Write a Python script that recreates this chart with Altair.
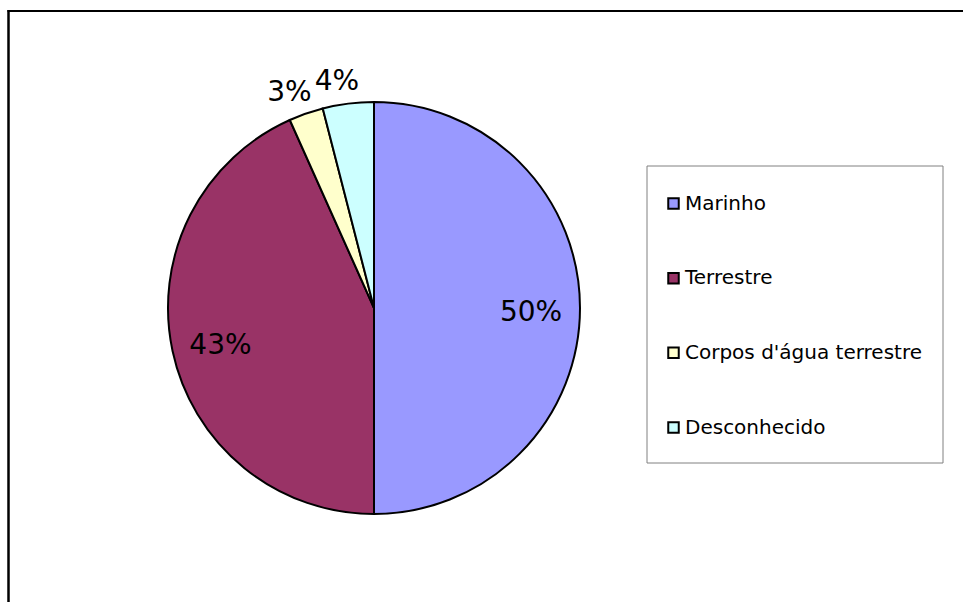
import altair as alt
import pandas as pd

categories = ["Marinho", "Terrestre", "Corpos d'água terrestre", "Desconhecido"]
values = [50.0, 43.3, 2.7, 4.0]
labels = ["50%", "43%", "3%", "4%"]
colors = ["#9999FF", "#993366", "#FFFFCC", "#CCFFFF"]

df = pd.DataFrame({"cat": categories, "value": values, "label": labels, "idx": list(range(len(categories)))})

FONT = "DejaVu Sans"
CX, CY = 374, 308

base = (
    alt.Chart(df)
    .transform_joinaggregate(total="sum(value)")
    .transform_window(cum="sum(value)", sort=[alt.SortField("idx")], frame=[None, 0])
    .transform_calculate(
        f_end="datum.cum / datum.total",
        f_start="(datum.cum - datum.value) / datum.total",
        f_mid="(datum.cum - datum.value / 2) / datum.total",
    )
)

theta_scale = alt.Scale(domain=[0, 1])
fill_scale = alt.Scale(domain=categories, range=colors)

pie = base.mark_arc(outerRadius=206, stroke="black", strokeWidth=2, x=CX, y=CY).encode(
    theta=alt.Theta("f_start:Q", scale=theta_scale, stack=None),
    theta2="f_end:Q",
    fill=alt.Fill("cat:N", scale=fill_scale, legend=None),
)

inner = base.transform_filter("datum.value >= 10").mark_text(
    radius=157, fontSize=28, font=FONT, color="black", x=CX, y=CY,
    align="center", baseline="middle", dy=5,
).encode(theta=alt.Theta("f_mid:Q", scale=theta_scale, stack=None), text="label:N")

outer = base.transform_filter("datum.value < 10").mark_text(
    radius=232, fontSize=28, font=FONT, color="black", x=CX, y=CY,
    align="center", baseline="middle", dx=-8, dy=4,
).encode(theta=alt.Theta("f_mid:Q", scale=theta_scale, stack=None), text="label:N")

one = alt.Chart(pd.DataFrame({"a": [0]}))

box = one.mark_rect(fill="white", stroke="#808080", strokeWidth=1).encode(
    x=alt.value(647), x2=alt.value(943), y=alt.value(166), y2=alt.value(463)
)

ypos = alt.Y(
    "cat:N", sort=categories,
    scale=alt.Scale(type="point", range=[203.5, 427.5], padding=0), axis=None,
)

squares = alt.Chart(df).mark_point(
    shape="square", size=110, filled=True, stroke="black", strokeWidth=2, opacity=1, x=673.5
).encode(y=ypos, fill=alt.Fill("cat:N", scale=fill_scale, legend=None))

leg_text = alt.Chart(df).mark_text(
    align="left", baseline="middle", fontSize=20, font=FONT, color="black", x=685
).encode(y=ypos, text="cat:N")

frame_left = one.mark_rule(color="black", strokeWidth=2.5).encode(
    x=alt.value(8.5), y=alt.value(10), y2=alt.value(602)
)
frame_top = one.mark_rule(color="black", strokeWidth=2).encode(
    x=alt.value(7.5), x2=alt.value(963), y=alt.value(11)
)

chart = (
    alt.layer(frame_left, frame_top, pie, inner, outer, box, squares, leg_text)
    .properties(width=963, height=602, autosize=alt.AutoSizeParams(type="none"), padding=0)
    .configure_view(stroke=None)
)

chart.save("out.html", embed_options={"renderer": "svg", "actions": False})
